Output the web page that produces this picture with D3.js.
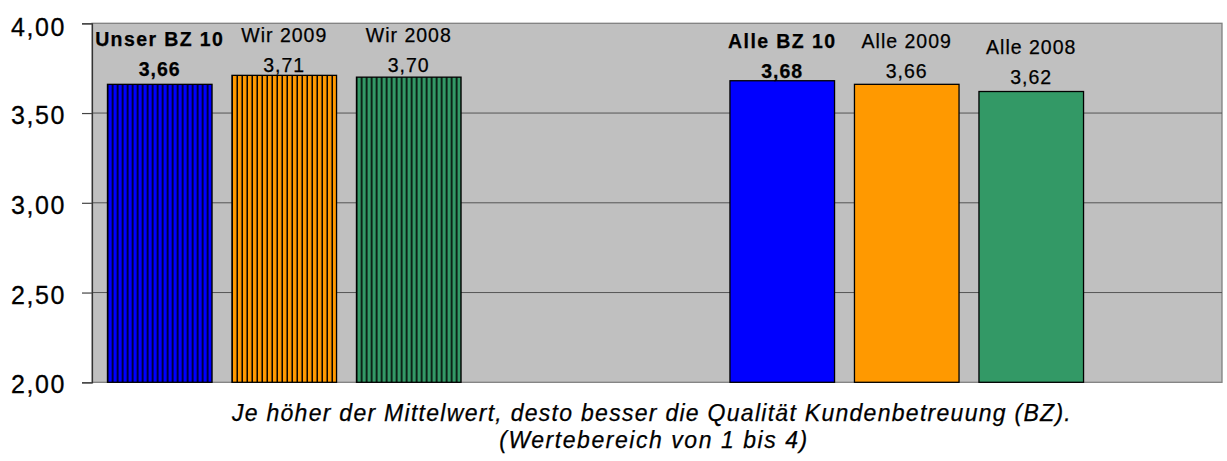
<!DOCTYPE html>
<html>
<head>
<meta charset="utf-8">
<script src="https://cdn.jsdelivr.net/npm/d3@7"></script>
<style>
  body { margin: 0; background: #fff; }
  svg { display: block; font-family: "Liberation Sans", Arial, sans-serif; }
</style>
</head>
<body>
<div id="chart"></div>
<script>
// values
const categories = ["Unser BZ 10", "Wir 2009", "Wir 2008", "Alle BZ 10", "Alle 2009", "Alle 2008"];
const values = [3.66, 3.71, 3.70, 3.68, 3.66, 3.62];
const groups = ["wir", "wir", "wir", "alle", "alle", "alle"];
const highlight = [true, false, false, true, false, false];
const yTicks = [2.0, 2.5, 3.0, 3.5, 4.0];
const captionLines = [
  "Je höher der Mittelwert, desto besser die Qualität Kundenbetreuung (BZ).",
  "(Wertebereich von 1 bis 4)"
];

const W = 1227, H = 461;
const plot = { left: 92, right: 1222, top: 23.3, bottom: 382.3 };
const barColors = ["#0000FF", "#FF9900", "#339966"];

const fmt = v => d3.format(".2f")(v).replace(".", ",");

const svg = d3.select("#chart").append("svg")
  .attr("width", W)
  .attr("height", H);

// slots: three bars, two empty, three bars, one empty
const slots = [...categories.slice(0, 3), "_g1", "_g2", ...categories.slice(3), "_g3"];

const x = d3.scaleBand()
  .domain(slots)
  .range([plot.left + 5.5, plot.right - 4])
  .paddingInner(0.16)
  .paddingOuter(0.08);

const y = d3.scaleLinear()
  .domain([2, 4])
  .range([plot.bottom, plot.top]);

// striped patterns for the first group
const defs = svg.append("defs");
categories.forEach((c, i) => {
  if (groups[i] !== "wir") return;
  const p = defs.append("pattern")
    .attr("id", "stripe" + i)
    .attr("patternUnits", "userSpaceOnUse")
    .attr("width", 5)
    .attr("height", 10)
    .attr("x", x(c) + 1);
  p.append("rect").attr("width", 5).attr("height", 10).attr("fill", barColors[i % 3]);
  p.append("rect").attr("x", 3.5).attr("width", 1.5).attr("height", 10).attr("fill", "#000");
});

// plot background
svg.append("rect")
  .attr("x", plot.left)
  .attr("y", plot.top)
  .attr("width", plot.right - plot.left)
  .attr("height", plot.bottom - plot.top)
  .attr("fill", "#C0C0C0")
  .attr("stroke", "#808080")
  .attr("stroke-width", 1.3);

// gridlines
svg.append("g")
  .selectAll("line")
  .data(yTicks.filter(t => t > 2 && t < 4))
  .enter()
  .append("line")
  .attr("x1", plot.left)
  .attr("x2", plot.right)
  .attr("y1", d => y(d))
  .attr("y2", d => y(d))
  .attr("stroke", "#555")
  .attr("stroke-width", 1);

// y axis
const yAxis = svg.append("g")
  .attr("transform", "translate(" + plot.left + ",0)")
  .call(d3.axisLeft(y).tickValues(yTicks).tickSize(10).tickPadding(16).tickFormat(fmt));
yAxis.select(".domain").attr("stroke", "#333").attr("stroke-width", 1.2);
yAxis.selectAll(".tick line").attr("stroke", "#444").attr("stroke-width", 1.2);
yAxis.selectAll(".tick text")
  .attr("fill", "#000")
  .attr("font-size", "25px")
  .attr("letter-spacing", "1.6px")
  .attr("font-family", "Liberation Sans, Arial, sans-serif")
  .attr("stroke", "#000")
  .attr("stroke-width", 0.3)
  .attr("dy", (d, i) => d === 4 ? "0.5em" : "0.42em");

// bars
svg.append("g")
  .selectAll("rect")
  .data(categories)
  .enter()
  .append("rect")
  .attr("x", d => x(d))
  .attr("y", (d, i) => y(values[i]))
  .attr("width", x.bandwidth())
  .attr("height", (d, i) => y(2) - y(values[i]))
  .attr("fill", (d, i) => groups[i] === "wir" ? "url(#stripe" + i + ")" : barColors[i % 3])
  .attr("stroke", "#000")
  .attr("stroke-width", 1.3);

// labels above bars
const labelFloor = { wir: 72, alle: 78 };
const valueBase = i => Math.max(y(values[i]) - 8, labelFloor[groups[i]]);

const labels = svg.append("g")
  .attr("text-anchor", "middle")
  .attr("fill", "#000")
  .attr("stroke", "#000")
  .attr("stroke-width", 0.25)
  .attr("font-size", "19.5px")
  .attr("letter-spacing", "1px");

labels.selectAll("text.name")
  .data(categories)
  .enter()
  .append("text")
  .attr("class", "name")
  .attr("x", d => x(d) + x.bandwidth() / 2)
  .attr("y", (d, i) => valueBase(i) - 30)
  .attr("font-weight", (d, i) => highlight[i] ? "bold" : "normal")
  .attr("letter-spacing", (d, i) => highlight[i] ? "1.4px" : "1px")
  .text(d => d);

labels.selectAll("text.value")
  .data(categories)
  .enter()
  .append("text")
  .attr("class", "value")
  .attr("x", d => x(d) + x.bandwidth() / 2)
  .attr("y", (d, i) => valueBase(i))
  .attr("font-weight", (d, i) => highlight[i] ? "bold" : "normal")
  .text((d, i) => fmt(values[i]));

// caption
svg.append("g")
  .selectAll("text")
  .data(captionLines)
  .enter()
  .append("text")
  .attr("x", (d, i) => i === 0 ? 652 : 654)
  .attr("y", (d, i) => 420.7 + i * 27.5)
  .attr("text-anchor", "middle")
  .attr("font-style", "italic")
  .attr("font-size", "23px")
  .attr("letter-spacing", (d, i) => i === 0 ? "1.28px" : "1.55px")
  .attr("fill", "#000")
  .attr("stroke", "#000")
  .attr("stroke-width", 0.25)
  .text(d => d);
</script>
</body>
</html>
